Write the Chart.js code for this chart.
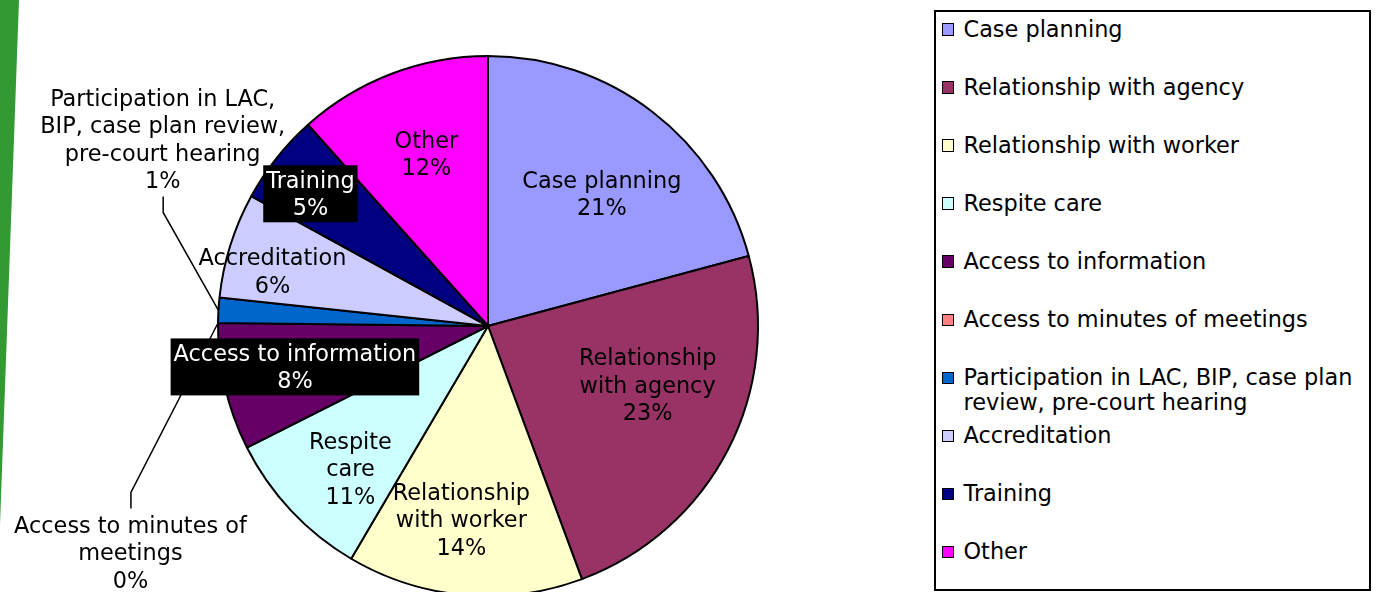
<!DOCTYPE html>
<html>
<head>
<meta charset="utf-8">
<script src="https://cdn.jsdelivr.net/npm/chart.js@4.4.1/dist/chart.umd.min.js"></script>
<style>
html,body{margin:0;padding:0;background:#fff;}
#wrap{position:relative;width:1378px;height:592px;overflow:hidden;font-family:"DejaVu Sans",Verdana,sans-serif;}
#stripe{position:absolute;left:0;top:0;width:20px;height:530px;background:#339933;clip-path:polygon(0 0,19px 0,0 525px);}
#chartBox{position:absolute;left:0;top:0;width:1378px;height:592px;}
#legend{position:absolute;left:934px;top:10px;width:437px;height:581px;border:2px solid #000;box-sizing:border-box;background:#fff;}
.item{position:absolute;left:0;width:430px;font-size:22.4px;line-height:25px;color:#000;}
.mark{position:absolute;left:5.5px;top:6.5px;width:12.5px;height:12.5px;border:1.5px solid #000;box-sizing:border-box;}
.txt{position:absolute;left:27.5px;top:0;width:405px;white-space:normal;}
</style>
</head>
<body>
<div id="wrap">
  <div id="stripe"></div>
  <div id="chartBox"><canvas id="c"></canvas></div>
  <div id="legend"></div>
</div>
<script>
// ---- data ----
const categories = [
  'Case planning',
  'Relationship with agency',
  'Relationship with worker',
  'Respite care',
  'Access to information',
  'Access to minutes of meetings',
  'Participation in LAC, BIP, case plan review, pre-court hearing',
  'Accreditation',
  'Training',
  'Other'
];
const shares = [20.8, 23.5, 14.1, 9.1, 7.6, 0, 1.5, 6.3, 5.4, 11.6];
const percentLabels = ['21%', '23%', '14%', '11%', '8%', '0%', '1%', '6%', '5%', '12%'];
const sliceLabelLines = [
  ['Case planning'],
  ['Relationship', 'with agency'],
  ['Relationship', 'with worker'],
  ['Respite', 'care'],
  ['Access to information'],
  ['Access to minutes of', 'meetings'],
  ['Participation in LAC,', 'BIP, case plan review,', 'pre-court hearing'],
  ['Accreditation'],
  ['Training'],
  ['Other']
];
const sliceColors = ['#9999FF', '#993366', '#FFFFCC', '#CCFFFF', '#660066',
                     '#FF8080', '#0066CC', '#CCCCFF', '#000080', '#FF00FF'];

// ---- label styling (placement relative to each slice) ----
const FONT = '22.4px "DejaVu Sans", Verdana, sans-serif';
const LINE_H = 27.5;
const TEXT_DY = 2;
const placement = [
  {frac: 0.647, dAng: 3.2},
  {frac: 0.63,  dAng: -7.1},
  {frac: 0.723, dAng: 2.8},
  {frac: 0.733, dAng: -2.8},
  {frac: 0.731, dAng: 1.1, box: true},
  {frac: 1.568, dAng: -33.0, leader: 'above', leaderDx: 0.5},
  {frac: 1.389, dAng: 26.5, leader: 'below', leaderDx: 0.5},
  {frac: 0.824, dAng: -3.1},
  {frac: 0.82,  dAng: -1.8, box: true},
  {frac: 0.677, dAng: 1.2}
];

// ---- legend (HTML) ----
const legendEl = document.getElementById('legend');
categories.forEach((name, i) => {
  const it = document.createElement('div');
  it.className = 'item';
  it.style.top = (4.5 + i * 58.1) + 'px';
  const m = document.createElement('div');
  m.className = 'mark';
  m.style.background = sliceColors[i];
  const t = document.createElement('div');
  t.className = 'txt';
  t.textContent = name;
  it.appendChild(m); it.appendChild(t);
  legendEl.appendChild(it);
});

// ---- slice label plugin ----
const sliceLabels = {
  id: 'sliceLabels',
  afterDatasetsDraw(chart) {
    const ctx = chart.ctx;
    const meta = chart.getDatasetMeta(0);
    const infos = meta.data.map((arc, i) => {
      const p = arc.getProps(['x', 'y', 'startAngle', 'endAngle', 'outerRadius'], true);
      const midA = (p.startAngle + p.endAngle) / 2;
      const a = midA + placement[i].dAng * Math.PI / 180;
      const r = p.outerRadius * placement[i].frac;
      const cx = p.x + Math.cos(a) * r;
      const cy = p.y + Math.sin(a) * r;
      const lines = sliceLabelLines[i].concat([percentLabels[i]]);
      const h = lines.length * LINE_H;
      return {p, midA, cx, cy, lines, h, top: cy - h / 2};
    });
    ctx.save();
    // leader lines first
    ctx.strokeStyle = '#000';
    ctx.lineWidth = 1.5;
    infos.forEach((inf, i) => {
      const pl = placement[i];
      if (!pl.leader) return;
      const ex = inf.p.x + Math.cos(inf.midA) * inf.p.outerRadius;
      const ey = inf.p.y + Math.sin(inf.midA) * inf.p.outerRadius;
      const ax = inf.cx + (pl.leaderDx || 0);
      let ay1, ay2;
      if (pl.leader === 'above') { ay1 = inf.top - 3; ay2 = ay1 - 16; }
      else { ay1 = inf.top + inf.h + 2; ay2 = ay1 + 16; }
      ctx.beginPath();
      ctx.moveTo(ax, ay1);
      ctx.lineTo(ax, ay2);
      ctx.lineTo(ex, ey);
      ctx.stroke();
    });
    // labels
    ctx.font = FONT;
    ctx.textAlign = 'center';
    ctx.textBaseline = 'middle';
    infos.forEach((inf, i) => {
      const pl = placement[i];
      if (pl.box) {
        const w = Math.max(...inf.lines.map(l => ctx.measureText(l).width)) + 6;
        ctx.fillStyle = '#000';
        ctx.fillRect(inf.cx - w / 2, inf.top - 1, w, inf.h + 2);
        ctx.fillStyle = '#fff';
      } else {
        ctx.fillStyle = '#000';
      }
      inf.lines.forEach((l, k) => ctx.fillText(l, inf.cx, inf.top + LINE_H * (k + 0.5) + TEXT_DY));
    });
    ctx.restore();
  }
};

new Chart(document.getElementById('c'), {
  type: 'pie',
  data: {
    labels: categories,
    datasets: [{
      data: shares,
      backgroundColor: sliceColors,
      borderColor: '#000',
      borderWidth: 2,
      radius: 270,
      clip: false
    }]
  },
  options: {
    responsive: true,
    maintainAspectRatio: false,
    animation: false,
    layout: {padding: {left: 0, right: 402, top: 60, bottom: 0}},
    plugins: {
      legend: {display: false},
      tooltip: {enabled: false}
    }
  },
  plugins: [sliceLabels]
});
</script>
</body>
</html>
